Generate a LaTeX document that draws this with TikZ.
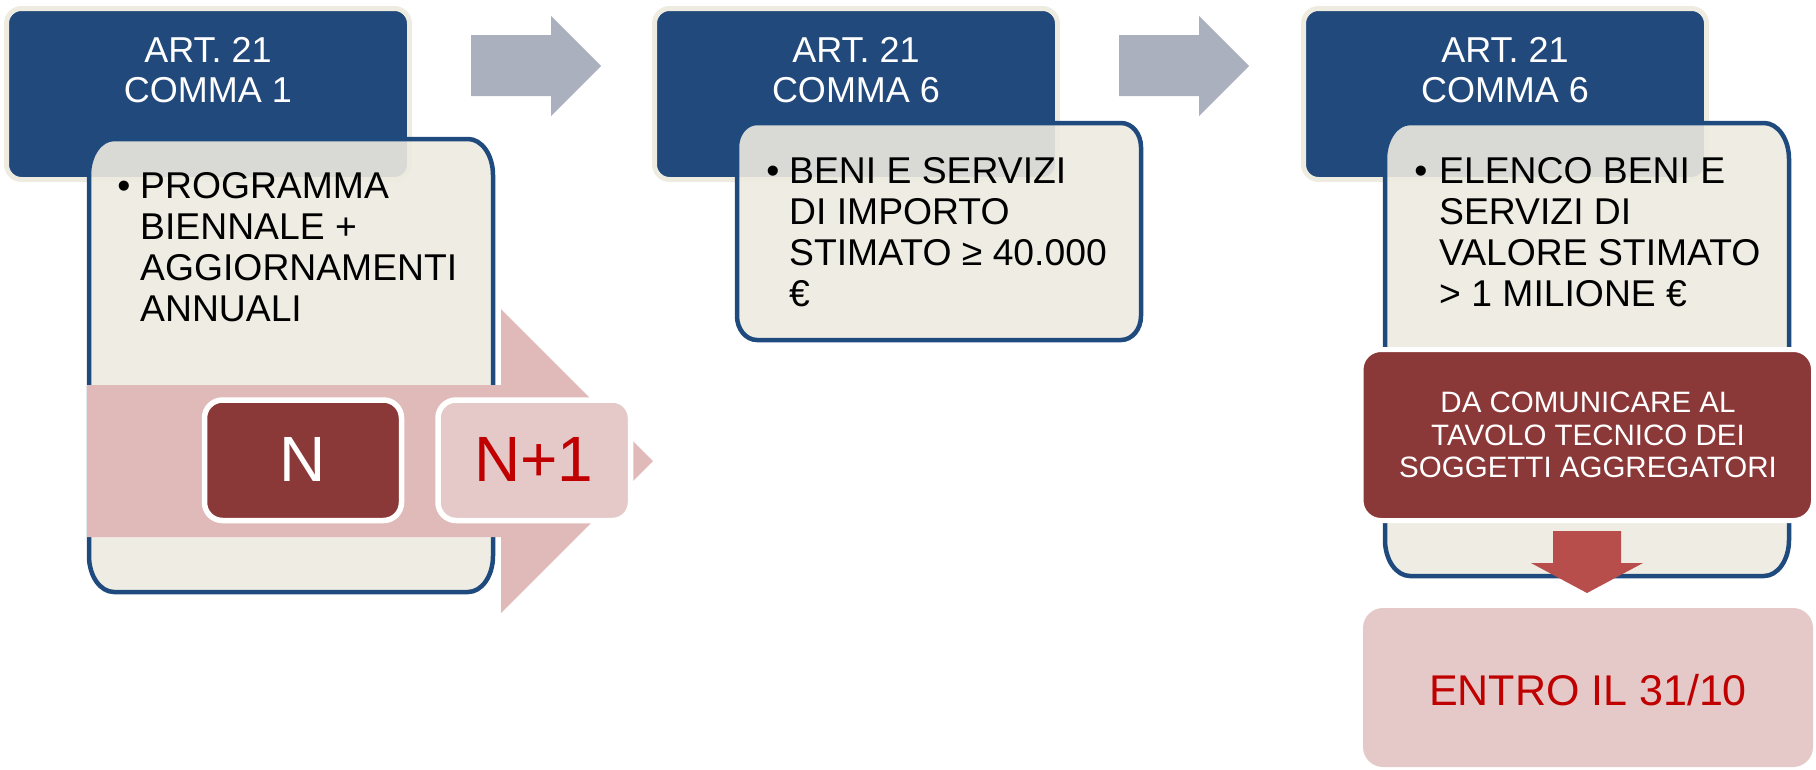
\documentclass[tikz,border=0pt]{standalone}
\usepackage{fontspec}
\setmainfont{Liberation Sans}

\definecolor{hdrblue}{HTML}{21497C}
\definecolor{hdrrim}{HTML}{EEECE1}
\definecolor{panelfill}{HTML}{EDEAE0}
\definecolor{panelrim}{HTML}{1F4A7E}
\definecolor{flowgrey}{HTML}{AAB0BE}
\definecolor{bandpink}{HTML}{DFBAB9}
\definecolor{wine}{HTML}{8B3838}
\definecolor{blush}{HTML}{E5C8C8}
\definecolor{alertred}{HTML}{C00000}
\definecolor{droparrow}{HTML}{B84E4C}

% rounded rectangle with elliptical corners: x1,y1,x2,y2,rx,ry (y grows downwards)
\newcommand\ovalbox[6]{(#1+#5,#2) -- (#3-#5,#2)
  arc[start angle=-90,end angle=0,x radius=#5,y radius=#6] -- (#3,#4-#6)
  arc[start angle=0,end angle=90,x radius=#5,y radius=#6] -- (#1+#5,#4)
  arc[start angle=90,end angle=180,x radius=#5,y radius=#6] -- (#1,#2+#6)
  arc[start angle=180,end angle=270,x radius=#5,y radius=#6] -- cycle}

\tikzset{
  header/.style={fill=hdrblue, draw=hdrrim, line width=5pt, rounded corners=15pt},
  panel/.style={fill=panelfill, fill opacity=0.9, draw=panelrim, line width=4.5pt},
  hdrtext/.style={anchor=north, inner sep=0pt, align=center, text=white,
    font=\fontsize{36}{40}\selectfont},
  bullettext/.style={anchor=north west, inner sep=0pt, align=left, text=black,
    font=\fontsize{37.3}{41}\selectfont},
  bulletmark/.style={anchor=base, inner sep=0pt, font=\fontsize{37.3}{41}\selectfont},
  yearbox/.style={draw=white, line width=5.5pt, rounded corners=18pt},
  yeartext/.style={inner sep=0pt, font=\fontsize{64}{64}\selectfont},
}

\begin{document}
\begin{tikzpicture}[x=1pt, y=-1pt]
\useasboundingbox (0,0) rectangle (1816,769);

% ---------- column 1 : art. 21 comma 1 ----------
\draw[header] (6.5,8.5) rectangle (409.5,179.5);
\node[hdrtext] (h1) at (208,37) {ART. 21\\COMMA 1};
\path[panel] \ovalbox{89}{139}{493}{592}{25}{36};
\node[bulletmark] (b1) at (124,198) {•};
\node[bullettext] (t1) at (140,172) {PROGRAMMA\\BIENNALE +\\AGGIORNAMENTI\\ANNUALI};

% band arrow across the years
\fill[bandpink] (87,385) -- (501,385) -- (501,309) -- (653,461) -- (501,613)
  -- (501,537) -- (87,537) -- cycle;
\draw[yearbox, fill=wine] (204.5,400) rectangle (401.5,520.5);
\node[yeartext, text=white] (n0) at (303,459) {N};
\draw[yearbox, fill=blush] (438,400) rectangle (630.5,520.5);
\node[yeartext, text=alertred] (n1) at (534,459) {N+1};

% flow arrow 1 -> 2
\fill[flowgrey] (471,35) -- (551,35) -- (551,16) -- (601,66) -- (551,116)
  -- (551,96) -- (471,96) -- cycle;

% ---------- column 2 : art. 21 comma 6 ----------
\draw[header] (654.5,8.5) rectangle (1057.5,179.5);
\node[hdrtext] (h2) at (856,37) {ART. 21\\COMMA 6};
\path[panel] \ovalbox{737}{123}{1141}{340}{20}{24};
\node[bulletmark] (b2) at (773,183) {•};
\node[bullettext] (t2) at (789,157) {BENI E SERVIZI\\DI IMPORTO\\STIMATO ≥ 40.000\\€};

% flow arrow 2 -> 3
\fill[flowgrey] (1119,35) -- (1199,35) -- (1199,16) -- (1249,66) -- (1199,116)
  -- (1199,96) -- (1119,96) -- cycle;

% ---------- column 3 : art. 21 comma 6 ----------
\draw[header] (1303.5,8.5) rectangle (1706.5,179.5);
\node[hdrtext] (h3) at (1505,37) {ART. 21\\COMMA 6};
\path[panel] \ovalbox{1385}{123}{1789}{576}{25}{36};
\node[bulletmark] (b3) at (1421,183) {•};
\node[bullettext] (t3) at (1439,157) {ELENCO BENI E\\SERVIZI DI\\VALORE STIMATO\\> 1 MILIONE €};

\draw[draw=white, line width=5pt, fill=wine, rounded corners=20pt]
  (1361,349.5) rectangle (1813.5,520.5);
\node[inner sep=0pt, align=center, text=white, font=\fontsize{29.5}{32.5}\selectfont]
  (notice) at (1588,435) {DA COMUNICARE AL\\TAVOLO TECNICO DEI\\SOGGETTI AGGREGATORI};

\fill[droparrow] (1553,531) -- (1621,531) -- (1621,563) -- (1643,563) -- (1587,593)
  -- (1531,563) -- (1553,563) -- cycle;

\fill[blush, rounded corners=20pt] (1363,608) rectangle (1813,767);
\node[inner sep=0pt, text=alertred, font=\fontsize{43}{43}\selectfont]
  (deadline) at (1588,690) {ENTRO IL 31/10};
\end{tikzpicture}
\end{document}
